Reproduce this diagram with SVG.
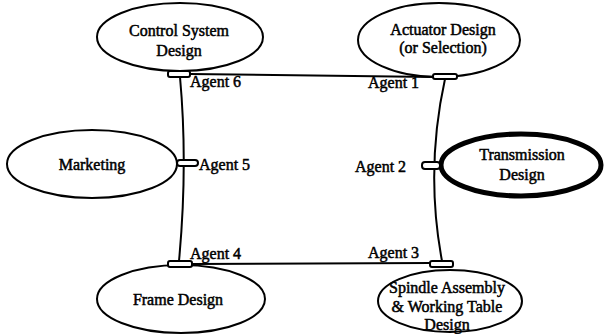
<svg xmlns="http://www.w3.org/2000/svg" width="606" height="334" viewBox="0 0 606 334">
  <style>
    .node { fill: #fff; stroke: #000; stroke-width: 2; }
    .thick { stroke-width: 5; }
    .link { fill: none; stroke: #000; stroke-width: 2; }
    .port { fill: #fff; stroke: #000; stroke-width: 2; }
    text { font-family: "Liberation Serif", "Times New Roman", serif; font-size: 16px; fill: #000; stroke: #000; stroke-width: 0.5; }
    .c { text-anchor: middle; }
  </style>
  <rect width="606" height="334" fill="#fff"/>

  <!-- connectors between agents -->
  <g id="connectors">
    <path class="link" d="M190,74 L433,77"/>
    <path class="link" d="M192,264 L431,263"/>
    <path class="link" d="M180,77 Q188,165 179,261"/>
    <path class="link" d="M445,79 Q425,170 442,261"/>
    <path class="link" d="M177,163 L184,163"/>
    <path class="link" d="M432,166 L440,166"/>
  </g>

  <g id="control-system">
    <ellipse class="node" cx="180" cy="37" rx="83" ry="34"/>
    <text class="c" x="179" y="36">Control System</text>
    <text class="c" x="179" y="56">Design</text>
  </g>

  <g id="actuator">
    <ellipse class="node" cx="439" cy="40" rx="81" ry="37"/>
    <text class="c" x="443" y="35">Actuator Design</text>
    <text class="c" x="443" y="53">(or Selection)</text>
  </g>

  <g id="marketing">
    <ellipse class="node" cx="92" cy="164" rx="85" ry="34"/>
    <text class="c" x="92" y="170">Marketing</text>
  </g>

  <g id="transmission">
    <ellipse class="node thick" cx="521" cy="165" rx="80" ry="31"/>
    <text class="c" x="522" y="160">Transmission</text>
    <text class="c" x="522" y="180">Design</text>
  </g>

  <g id="frame">
    <ellipse class="node" cx="181" cy="299" rx="84" ry="34"/>
    <text class="c" x="178" y="305">Frame Design</text>
  </g>

  <g id="spindle">
    <ellipse class="node" cx="450" cy="301" rx="72" ry="31"/>
    <text class="c" x="447" y="293">Spindle Assembly</text>
    <text class="c" x="447" y="312">&amp; Working Table</text>
    <text class="c" x="447" y="330">Design</text>
  </g>

  <g id="agent-6">
    <rect class="port" x="168" y="71" width="22" height="6" rx="2"/>
    <text x="190" y="87">Agent 6</text>
  </g>
  <g id="agent-1">
    <rect class="port" x="433" y="74" width="24" height="5" rx="2"/>
    <text x="368" y="88">Agent 1</text>
  </g>
  <g id="agent-5">
    <rect class="port" x="177" y="160" width="21" height="6" rx="3"/>
    <text x="199" y="170">Agent 5</text>
  </g>
  <g id="agent-2">
    <rect class="port" x="422" y="162" width="18" height="7" rx="3"/>
    <text x="355" y="172">Agent 2</text>
  </g>
  <g id="agent-4">
    <rect class="port" x="168" y="261" width="24" height="6" rx="2"/>
    <text x="190" y="259">Agent 4</text>
  </g>
  <g id="agent-3">
    <rect class="port" x="430" y="261" width="23" height="6" rx="2"/>
    <text x="368" y="258">Agent 3</text>
  </g>
</svg>
